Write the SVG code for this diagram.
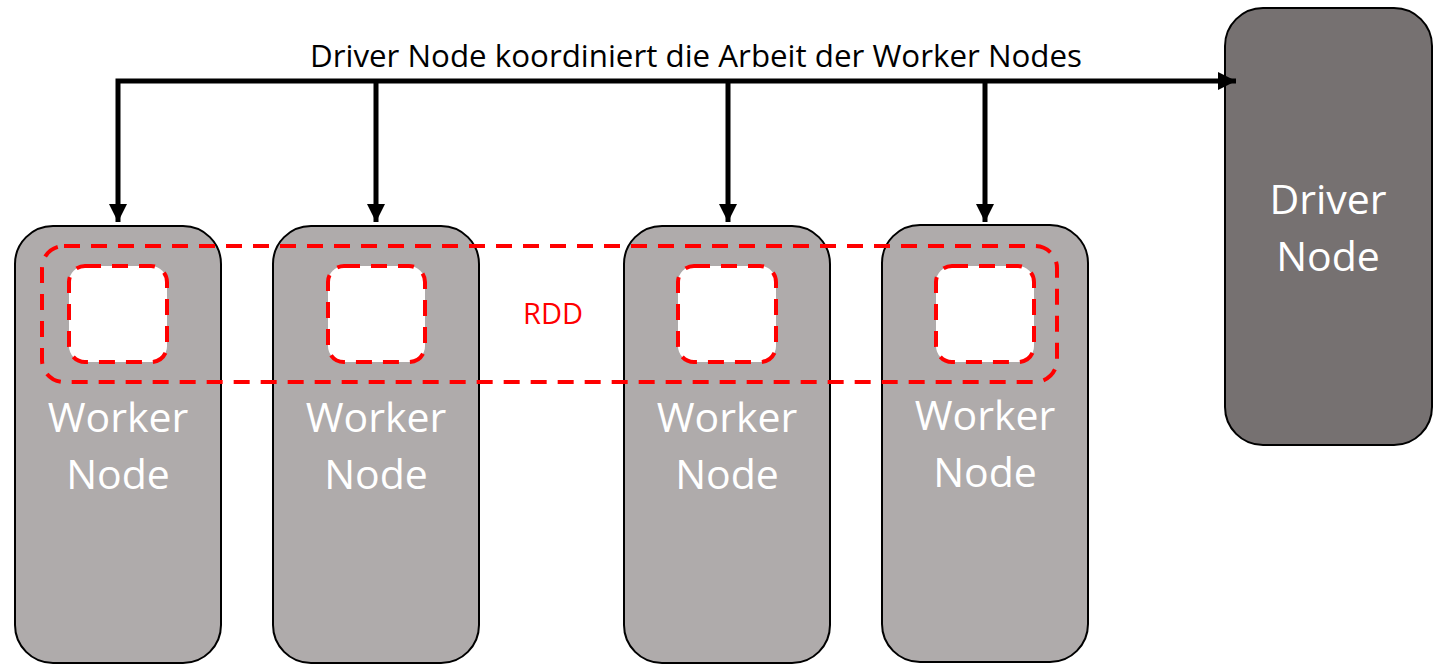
<svg xmlns="http://www.w3.org/2000/svg" width="1444" height="672" viewBox="0 0 1444 672">
<style>
.worker{fill:#AFABAB;stroke:#000;stroke-width:2}
.driver{fill:#767171;stroke:#000;stroke-width:2}
.cell{fill:#fff;stroke:#FF0000;stroke-width:4;stroke-dasharray:16 11}
.rdd{fill:none;stroke:#FF0000;stroke-width:4;stroke-dasharray:16 11}
.lbl{font-family:"Open Sans","Liberation Sans",sans-serif;font-size:41px;fill:#fff;text-anchor:middle}
.conn{fill:none;stroke:#000;stroke-width:5}
.title{font-family:"Open Sans","Liberation Sans",sans-serif;font-size:31px;fill:#000}
.rddl{font-family:"Open Sans","Liberation Sans",sans-serif;font-size:29px;fill:#FF0000}
</style>
<defs>
<marker id="arr" viewBox="0 0 10 10" refX="10" refY="5" markerWidth="3.6" markerHeight="3.6" orient="auto" markerUnits="strokeWidth">
<path d="M0,0 L10,5 L0,10 z" fill="#000"/>
</marker>
<marker id="arrs" viewBox="0 0 10 10" refX="10" refY="5" markerWidth="3.6" markerHeight="3.6" orient="auto-start-reverse" markerUnits="strokeWidth">
<path d="M0,0 L10,5 L0,10 z" fill="#000"/>
</marker>
</defs>
<g id="worker1"><rect class="worker" x="15" y="226" width="206" height="437" rx="38"/><rect class="cell" x="69" y="266" width="98" height="96" rx="16"/><text class="lbl" x="118" y="432">Worker</text><text class="lbl" x="118" y="489">Node</text></g>
<g id="worker2"><rect class="worker" x="273" y="226" width="206" height="437" rx="38"/><rect class="cell" x="328" y="266" width="97" height="96" rx="16"/><text class="lbl" x="376" y="432">Worker</text><text class="lbl" x="376" y="489">Node</text></g>
<g id="worker3"><rect class="worker" x="624" y="226" width="206" height="437" rx="38"/><rect class="cell" x="678" y="266" width="98" height="96" rx="16"/><text class="lbl" x="727" y="432">Worker</text><text class="lbl" x="727" y="489">Node</text></g>
<g id="worker4"><rect class="worker" x="882" y="225" width="206" height="437" rx="38"/><rect class="cell" x="936" y="266" width="98" height="96" rx="16"/><text class="lbl" x="985" y="430">Worker</text><text class="lbl" x="985" y="487">Node</text></g>
<g id="driver"><rect class="driver" x="1225" y="8" width="207" height="437" rx="38"/><text class="lbl" x="1328" y="214">Driver</text><text class="lbl" x="1328" y="271">Node</text></g>
<g id="rdd"><rect class="rdd" x="42" y="246" width="1015" height="136" rx="22"/><text class="rddl" x="523" y="324">RDD</text></g>
<g id="connectors">
<path class="conn" d="M118,222 V81 H1236" marker-start="url(#arrs)" marker-end="url(#arr)"/>
<path class="conn" d="M376,81 V222" marker-end="url(#arr)"/>
<path class="conn" d="M728,81 V222" marker-end="url(#arr)"/>
<path class="conn" d="M985,81 V222" marker-end="url(#arr)"/>
</g>
<text class="title" x="310" y="67" textLength="772" lengthAdjust="spacingAndGlyphs">Driver Node koordiniert die Arbeit der Worker Nodes</text>
</svg>
